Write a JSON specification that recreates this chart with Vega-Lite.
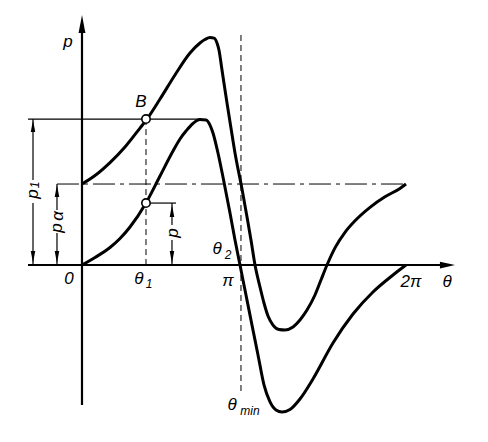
{
  "$schema": "https://vega.github.io/schema/vega-lite/v6.json",
  "width": 488,
  "height": 442,
  "padding": 0,
  "autosize": {"type": "none"},
  "background": "white",
  "config": {"view": {"stroke": null}},
  "datasets": {
    "curves": [
      {"series": "p", "theta": 0, "p": 0},
      {"series": "p", "theta": 0.252, "p": 0.093},
      {"series": "p", "theta": 0.543, "p": 0.216},
      {"series": "p", "theta": 0.737, "p": 0.327},
      {"series": "p", "theta": 0.931, "p": 0.469},
      {"series": "p", "theta": 1.241, "p": 0.765},
      {"series": "p", "theta": 1.513, "p": 1.099},
      {"series": "p", "theta": 1.765, "p": 1.407},
      {"series": "p", "theta": 1.9, "p": 1.556},
      {"series": "p", "theta": 2.017, "p": 1.654},
      {"series": "p", "theta": 2.152, "p": 1.747},
      {"series": "p", "theta": 2.288, "p": 1.796},
      {"series": "p", "theta": 2.405, "p": 1.79},
      {"series": "p", "theta": 2.482, "p": 1.728},
      {"series": "p", "theta": 2.54, "p": 1.63},
      {"series": "p", "theta": 2.637, "p": 1.383},
      {"series": "p", "theta": 2.734, "p": 1.086},
      {"series": "p", "theta": 2.87, "p": 0.642},
      {"series": "p", "theta": 2.967, "p": 0.309},
      {"series": "p", "theta": 3.064, "p": 0},
      {"series": "p", "theta": 3.18, "p": -0.37},
      {"series": "p", "theta": 3.296, "p": -0.74},
      {"series": "p", "theta": 3.413, "p": -1.11},
      {"series": "p", "theta": 3.529, "p": -1.48},
      {"series": "p", "theta": 3.646, "p": -1.69},
      {"series": "p", "theta": 3.762, "p": -1.79},
      {"series": "p", "theta": 3.878, "p": -1.815},
      {"series": "p", "theta": 4.033, "p": -1.784},
      {"series": "p", "theta": 4.227, "p": -1.654},
      {"series": "p", "theta": 4.479, "p": -1.407},
      {"series": "p", "theta": 4.867, "p": -0.963},
      {"series": "p", "theta": 5.255, "p": -0.605},
      {"series": "p", "theta": 5.643, "p": -0.333},
      {"series": "p", "theta": 6.031, "p": -0.123},
      {"series": "p", "theta": 6.283, "p": 0},
      {"series": "p1", "theta": 0, "p": 1.0},
      {"series": "p1", "theta": 0.252, "p": 1.105},
      {"series": "p1", "theta": 0.543, "p": 1.265},
      {"series": "p1", "theta": 0.834, "p": 1.457},
      {"series": "p1", "theta": 1.125, "p": 1.691},
      {"series": "p1", "theta": 1.26, "p": 1.802},
      {"series": "p1", "theta": 1.513, "p": 2.049},
      {"series": "p1", "theta": 1.803, "p": 2.346},
      {"series": "p1", "theta": 2.094, "p": 2.617},
      {"series": "p1", "theta": 2.288, "p": 2.741},
      {"series": "p1", "theta": 2.385, "p": 2.784},
      {"series": "p1", "theta": 2.482, "p": 2.809},
      {"series": "p1", "theta": 2.56, "p": 2.802},
      {"series": "p1", "theta": 2.618, "p": 2.741},
      {"series": "p1", "theta": 2.656, "p": 2.654},
      {"series": "p1", "theta": 2.715, "p": 2.407},
      {"series": "p1", "theta": 2.812, "p": 2.0},
      {"series": "p1", "theta": 2.889, "p": 1.691},
      {"series": "p1", "theta": 2.967, "p": 1.383},
      {"series": "p1", "theta": 3.103, "p": 0.938},
      {"series": "p1", "theta": 3.2, "p": 0.593},
      {"series": "p1", "theta": 3.277, "p": 0.309},
      {"series": "p1", "theta": 3.355, "p": 0},
      {"series": "p1", "theta": 3.452, "p": -0.272},
      {"series": "p1", "theta": 3.529, "p": -0.469},
      {"series": "p1", "theta": 3.607, "p": -0.63},
      {"series": "p1", "theta": 3.704, "p": -0.741},
      {"series": "p1", "theta": 3.82, "p": -0.796},
      {"series": "p1", "theta": 3.936, "p": -0.802},
      {"series": "p1", "theta": 4.092, "p": -0.765},
      {"series": "p1", "theta": 4.227, "p": -0.679},
      {"series": "p1", "theta": 4.363, "p": -0.556},
      {"series": "p1", "theta": 4.518, "p": -0.37},
      {"series": "p1", "theta": 4.634, "p": -0.185},
      {"series": "p1", "theta": 4.751, "p": 0},
      {"series": "p1", "theta": 4.906, "p": 0.212},
      {"series": "p1", "theta": 5.1, "p": 0.404},
      {"series": "p1", "theta": 5.294, "p": 0.546},
      {"series": "p1", "theta": 5.585, "p": 0.712},
      {"series": "p1", "theta": 5.875, "p": 0.842},
      {"series": "p1", "theta": 6.166, "p": 0.946},
      {"series": "p1", "theta": 6.283, "p": 1.0}
    ],
    "thin": [
      {"theta": -1.047, "p": 1.802, "theta2": 2.288, "p2": 1.802},
      {"theta": 1.241, "p": 0.765, "theta2": 1.823, "p2": 0.765},
      {"theta": -0.95, "p": 1.802, "theta2": -0.95, "p2": 1.049},
      {"theta": -0.95, "p": 0.765, "theta2": -0.95, "p2": 0},
      {"theta": -0.485, "p": 1.0, "theta2": -0.485, "p2": 0.679},
      {"theta": -0.485, "p": 0.395, "theta2": -0.485, "p2": 0},
      {"theta": 1.745, "p": 0.765, "theta2": 1.745, "p2": 0.494},
      {"theta": 1.745, "p": 0.309, "theta2": 1.745, "p2": 0}
    ],
    "axes": [
      {"theta": -1.047, "p": 0, "theta2": 7.0, "p2": 0},
      {"theta": 0, "p": -1.728, "theta2": 0, "p2": 2.95}
    ],
    "dashed": [
      {"theta": 1.241, "p": 1.802, "theta2": 1.241, "p2": 0},
      {"theta": 3.083, "p": 2.84, "theta2": 3.083, "p2": -1.605}
    ],
    "dashdot": [
      {"theta": -0.485, "p": 1.0, "theta2": 6.283, "p2": 1.0}
    ],
    "bigUp": [{"theta": 0, "p": 2.975}],
    "bigRight": [{"theta": 7.087, "p": 0}],
    "smallUp": [
      {"theta": -0.95, "p": 1.716},
      {"theta": -0.485, "p": 0.914},
      {"theta": 1.745, "p": 0.667}
    ],
    "smallDown": [
      {"theta": -0.95, "p": 0.099},
      {"theta": -0.485, "p": 0.099},
      {"theta": 1.745, "p": 0.099}
    ],
    "circles": [
      {"theta": 1.241, "p": 1.802},
      {"theta": 1.241, "p": 0.765}
    ],
    "labels": [
      {"theta": -0.271, "p": 2.753, "label": "p"},
      {"theta": 1.144, "p": 2.012, "label": "B"},
      {"theta": -0.252, "p": -0.173, "label": "0"},
      {"theta": 1.105, "p": -0.173, "label": "θ"},
      {"theta": 2.831, "p": -0.198, "label": "π"},
      {"theta": 6.38, "p": -0.21, "label": "2π"},
      {"theta": 7.078, "p": -0.21, "label": "θ"},
      {"theta": 2.618, "p": 0.198, "label": "θ"},
      {"theta": 2.909, "p": -1.728, "label": "θ"}
    ],
    "subs": [
      {"theta": 1.299, "p": -0.235, "label": "1"},
      {"theta": 2.831, "p": 0.123, "label": "2"},
      {"theta": 3.258, "p": -1.802, "label": "min"}
    ],
    "rotLabels": [
      {"theta": -0.95, "p": 0.877, "label": "p"},
      {"theta": -0.485, "p": 0.457, "label": "p"},
      {"theta": -0.465, "p": 0.605, "label": "α"},
      {"theta": 1.765, "p": 0.395, "label": "p"}
    ],
    "rotSubs": [
      {"theta": -0.911, "p": 0.988, "label": "1"}
    ]
  },
  "encoding": {
    "x": {"field": "theta", "type": "quantitative", "scale": {"domain": [-1.59, 7.873], "nice": false, "zero": false}, "axis": null},
    "y": {"field": "p", "type": "quantitative", "scale": {"domain": [-2.185, 3.272], "nice": false, "zero": false}, "axis": null}
  },
  "layer": [
    {
      "data": {"name": "thin"},
      "mark": {"type": "rule", "color": "black", "strokeWidth": 1.2},
      "encoding": {"x2": {"field": "theta2"}, "y2": {"field": "p2"}}
    },
    {
      "data": {"name": "dashed"},
      "mark": {"type": "rule", "color": "black", "strokeWidth": 1, "strokeDash": [6, 4]},
      "encoding": {"x2": {"field": "theta2"}, "y2": {"field": "p2"}}
    },
    {
      "data": {"name": "dashdot"},
      "mark": {"type": "rule", "color": "black", "strokeWidth": 1, "strokeDash": [22, 5, 4, 5]},
      "encoding": {"x2": {"field": "theta2"}, "y2": {"field": "p2"}}
    },
    {
      "data": {"name": "axes"},
      "mark": {"type": "rule", "color": "black", "strokeWidth": 2.2},
      "encoding": {"x2": {"field": "theta2"}, "y2": {"field": "p2"}}
    },
    {
      "data": {"name": "curves"},
      "mark": {"type": "line", "color": "black", "strokeWidth": 3, "interpolate": "monotone"},
      "encoding": {"detail": {"field": "series", "type": "nominal"}, "order": {"field": "theta", "type": "quantitative"}}
    },
    {
      "data": {"name": "bigUp"},
      "mark": {"type": "point", "shape": "M0,-1L0.38,1L-0.38,1Z", "size": 324, "filled": true, "color": "black", "opacity": 1}
    },
    {
      "data": {"name": "bigRight"},
      "mark": {"type": "point", "shape": "M1,0L-1,0.45L-1,-0.45Z", "size": 225, "filled": true, "color": "black", "opacity": 1}
    },
    {
      "data": {"name": "smallUp"},
      "mark": {"type": "point", "shape": "M0,-1L0.38,1L-0.38,1Z", "size": 144, "filled": true, "color": "black", "opacity": 1}
    },
    {
      "data": {"name": "smallDown"},
      "mark": {"type": "point", "shape": "M0,1L0.38,-1L-0.38,-1Z", "size": 144, "filled": true, "color": "black", "opacity": 1}
    },
    {
      "data": {"name": "circles"},
      "mark": {"type": "point", "shape": "circle", "size": 70, "filled": true, "fill": "white", "stroke": "black", "strokeWidth": 1.6, "opacity": 1}
    },
    {
      "data": {"name": "labels"},
      "mark": {"type": "text", "font": "Liberation Sans", "fontStyle": "italic", "fontSize": 17, "align": "center", "baseline": "middle", "color": "black"},
      "encoding": {"text": {"field": "label"}}
    },
    {
      "data": {"name": "subs"},
      "mark": {"type": "text", "font": "Liberation Sans", "fontStyle": "italic", "fontSize": 12, "align": "center", "baseline": "middle", "color": "black"},
      "encoding": {"text": {"field": "label"}}
    },
    {
      "data": {"name": "rotLabels"},
      "mark": {"type": "text", "font": "Liberation Sans", "fontStyle": "italic", "fontSize": 17, "align": "center", "baseline": "middle", "angle": 270, "color": "black"},
      "encoding": {"text": {"field": "label"}}
    },
    {
      "data": {"name": "rotSubs"},
      "mark": {"type": "text", "font": "Liberation Sans", "fontStyle": "italic", "fontSize": 12, "align": "center", "baseline": "middle", "angle": 270, "color": "black"},
      "encoding": {"text": {"field": "label"}}
    }
  ]
}
